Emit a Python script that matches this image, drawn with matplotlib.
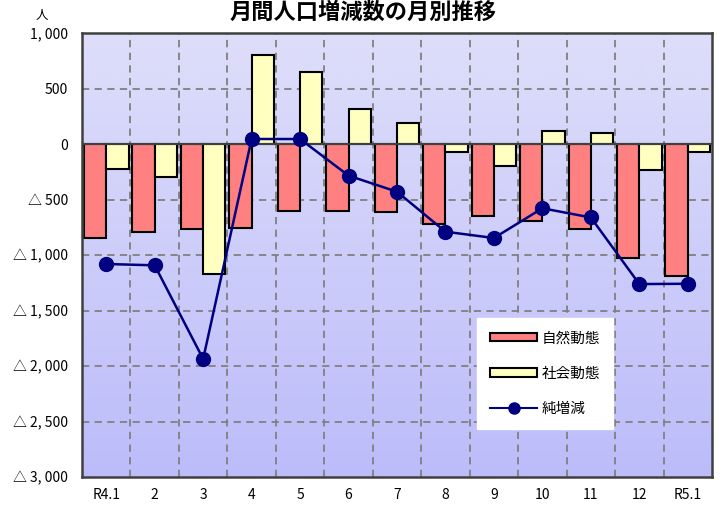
import numpy as np
import matplotlib.pyplot as plt
from matplotlib.colors import LinearSegmentedColormap
from matplotlib.lines import Line2D
from matplotlib.patches import Patch

plt.rcParams['font.family'] = ['Noto Sans CJK JP', 'DejaVu Sans']

# --- data (persons per month) ---
MONTHS = ["R4.1", "2", "3", "4", "5", "6", "7", "8", "9", "10", "11", "12", "R5.1"]
NATURAL = [-850, -790, -766, -760, -604, -600, -615, -720, -649, -694, -763, -1030, -1186]
SOCIAL = [-225, -300, -1174, 802, 652, 318, 186, -69, -198, 117, 102, -234, -72]
NET = [-1081, -1093, -1937, 45, 45, -285, -430, -790, -847, -579, -662, -1262, -1259]

Y_TICKS = [1000, 500, 0, -500, -1000, -1500, -2000, -2500, -3000]

RED = "#ff8080"
YELLOW = "#ffffc0"
NAVY = "#000080"
GRID = "#808080"
SPINE = "#404040"


def fmt_tick(v):
    s = f"{abs(v):,}".replace(",", ", ")
    return f"△ {s}" if v < 0 else s


fig = plt.figure(figsize=(7.26, 5.07), dpi=100)
ax = fig.add_axes([82 / 726, 30 / 507, 630 / 726, 444 / 507])

x = np.arange(len(MONTHS))
ax.set_xlim(-0.5, len(MONTHS) - 0.5)
ax.set_ylim(-3000, 1000)

# gradient background
grad = LinearSegmentedColormap.from_list("bg", ["#dedefa", "#bcbcfa"])
ax.imshow(np.linspace(0, 1, 256).reshape(-1, 1), cmap=grad, aspect="auto",
          extent=(-0.5, len(MONTHS) - 0.5, -3000, 1000), origin="upper", zorder=0)

# grid
for yv in Y_TICKS[1:-1]:
    if yv != 0:
        ax.axhline(yv, color=GRID, linestyle=(0, (4, 3)), linewidth=1.3, zorder=1)
for xb in np.arange(0.5, len(MONTHS) - 0.5):
    ax.axvline(xb, color=GRID, linestyle=(0, (4, 3)), linewidth=1.3, zorder=1)

w = 0.46
ax.bar(x - w / 2, NATURAL, width=w, color=RED, edgecolor="black", linewidth=1.5, zorder=2)
ax.bar(x + w / 2, SOCIAL, width=w, color=YELLOW, edgecolor="black", linewidth=1.5, zorder=2)
ax.axhline(0, color=SPINE, linewidth=1.5, zorder=3)
ax.plot(x, NET, color=NAVY, linewidth=1.8, marker="o", markersize=10, zorder=4)

ax.set_yticks(Y_TICKS)
ax.set_yticklabels([fmt_tick(v) for v in Y_TICKS], fontsize=10)
ax.set_xticks(x)
ax.set_xticklabels(MONTHS, fontsize=10)
ax.tick_params(length=0, pad=8)
ax.tick_params(axis="y", pad=10)
for sp in ax.spines.values():
    sp.set_color(SPINE)
    sp.set_linewidth(1.8)

fig.text(42 / 726, 1 - 16 / 507, "人", fontsize=9, ha="center", va="center")
fig.text(0.5, 1 - 1 / 507, "月間人口増減数の月別推移", fontsize=16, fontweight="bold",
         ha="center", va="top")

handles = [
    Patch(facecolor=RED, edgecolor="black", linewidth=1.5, label="自然動態"),
    Patch(facecolor=YELLOW, edgecolor="black", linewidth=1.5, label="社会動態"),
    Line2D([], [], color=NAVY, linewidth=1.5, marker="o", markersize=8, label="純増減"),
]
leg = ax.legend(handles=handles, loc="upper left", bbox_to_anchor=(388 / 630, 1 - 278 / 444),
                fontsize=10.5, frameon=True, fancybox=False, edgecolor="white",
                framealpha=1, handlelength=3.2, handleheight=0.5, labelspacing=1.45,
                borderpad=0.9, handletextpad=0.3)
leg.set_zorder(5)

fig.savefig("out.png", dpi=100)
